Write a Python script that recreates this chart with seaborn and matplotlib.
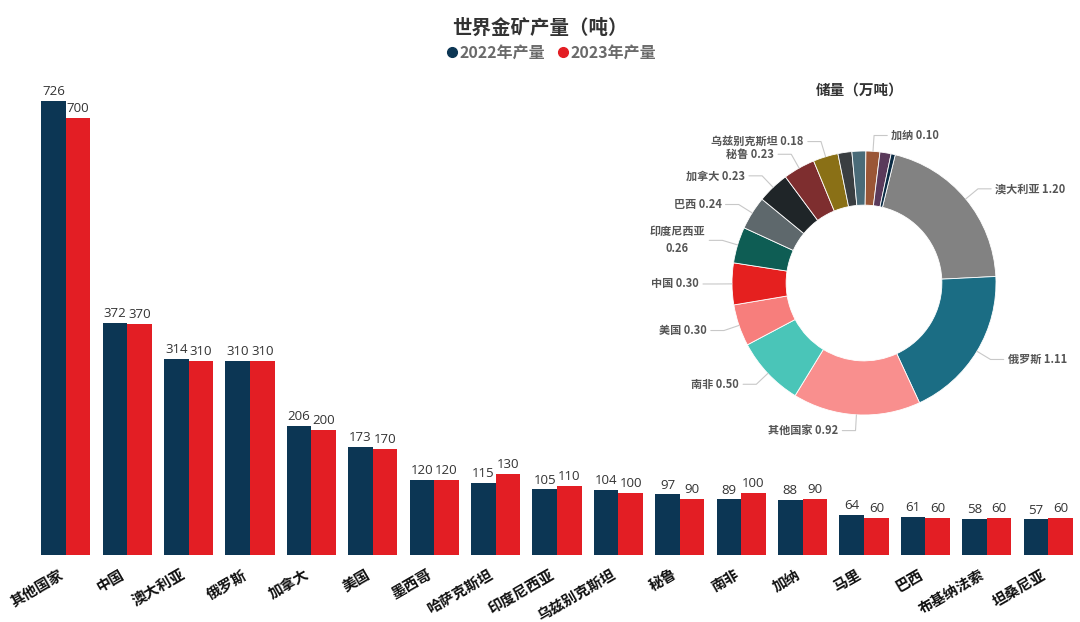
import numpy as np
import pandas as pd
import matplotlib
matplotlib.use("Agg")
import matplotlib.pyplot as plt
import matplotlib.transforms as mtrans
from matplotlib.lines import Line2D
import seaborn as sns

# 产量数据（吨）
countries = ["其他国家", "中国", "澳大利亚", "俄罗斯", "加拿大", "美国", "墨西哥", "哈萨克斯坦",
             "印度尼西亚", "乌兹别克斯坦", "秘鲁", "南非", "加纳", "马里", "巴西", "布基纳法索", "坦桑尼亚"]
prod_2022 = [726, 372, 314, 310, 206, 173, 120, 115, 105, 104, 97, 89, 88, 64, 61, 58, 57]
prod_2023 = [700, 370, 310, 310, 200, 170, 120, 130, 110, 100, 90, 100, 90, 60, 60, 60, 60]

# 储量数据（万吨），最后几块小扇区没有标签
reserve_names = ["澳大利亚", "俄罗斯", "其他国家", "南非", "美国", "中国", "印度尼西亚", "巴西",
                 "加拿大", "秘鲁", "乌兹别克斯坦", "", "", "加纳", "", ""]
reserve_vals = [1.20, 1.11, 0.92, 0.50, 0.30, 0.30, 0.26, 0.24, 0.23, 0.23, 0.18, 0.10, 0.10, 0.10, 0.08, 0.03]
reserve_colors = ["#828282", "#1b6d84", "#f98f8e", "#4ac5b8", "#f77e7c", "#e5201f", "#0e5d54", "#5e686c",
                  "#1f2528", "#7e2e2f", "#8a7016", "#3a3e41", "#4a6b78", "#9a5636", "#5a3a5b", "#0b2b44"]

c22, c23 = "#0c3654", "#e31e24"

sns.set_theme(style="white")
plt.rcParams["font.family"] = ["Noto Sans CJK SC", "DejaVu Sans"]

df = pd.DataFrame({
    "国家": countries * 2,
    "产量": prod_2022 + prod_2023,
    "年份": ["2022年产量"] * len(countries) + ["2023年产量"] * len(countries),
})

fig = plt.figure(figsize=(10.8, 6.22), dpi=100)
W, H = 1080, 622

def px_box(x0, y0, x1, y1):
    return [x0 / W, 1 - y1 / H, (x1 - x0) / W, (y1 - y0) / H]

ax = fig.add_axes(px_box(35, 80, 1079, 555))
sns.barplot(data=df, x="国家", y="产量", hue="年份", palette=[c22, c23],
            width=0.8, gap=0, saturation=1, legend=False, linewidth=0, ax=ax)
ax.set_ylim(0, 760)
ax.set_xlabel("")
ax.set_ylabel("")
ax.set_yticks([])
sns.despine(ax=ax, left=True, bottom=True)
for cont in ax.containers:
    ax.bar_label(cont, padding=2, fontsize=9.5, color="#333333", family=["Open Sans", "DejaVu Sans"])
ax.tick_params(axis="x", length=0, pad=8)
shift = mtrans.ScaledTranslation(-8 / 100, 0, fig.dpi_scale_trans)
for lab in ax.get_xticklabels():
    lab.set_rotation(30)
    lab.set_ha("right")
    lab.set_rotation_mode("anchor")
    lab.set_fontsize(10.5)
    lab.set_fontweight("bold")
    lab.set_color("#111111")
    lab.set_transform(lab.get_transform() + shift)

fig.text(540 / W, 1 - 28 / H, "世界金矿产量（吨）", ha="center", va="center",
         fontsize=14, fontweight="bold", color="#333333")
handles = [Line2D([], [], marker="o", ls="", color=c, markersize=7) for c in (c22, c23)]
fig.legend(handles, ["2022年产量", "2023年产量"], loc="center", bbox_to_anchor=(550 / W, 1 - 53 / H),
           ncol=2, frameon=False, handletextpad=0.0, columnspacing=0.6, handlelength=1.0,
           prop={"size": 11.5, "weight": "bold"}, labelcolor="#6a6a6a")

# 储量环形图
cx, cy, R = 864, 283, 132
pax = fig.add_axes(px_box(630, 100, 1080, 460))
wedges, _ = pax.pie(reserve_vals, colors=reserve_colors, startangle=76.3, counterclock=False,
                    radius=1.0, wedgeprops=dict(width=0.41, edgecolor="white", linewidth=0.6))
pax.set_xlim(-(cx - 630) / R, (1080 - cx) / R)
pax.set_ylim(-(460 - cy) / R, (cy - 100) / R)
pax.set_aspect("auto")
pax.axis("off")

for w, name, v in zip(wedges, reserve_names, reserve_vals):
    if not name:
        continue
    th = np.deg2rad((w.theta1 + w.theta2) / 2)
    x0, y0 = np.cos(th), np.sin(th)
    x1, y1 = 1.12 * x0, 1.12 * y0
    side = 1 if x0 >= 0 else -1
    x2 = x1 + side * 0.1
    pax.plot([x0, x1, x2], [y0, y1, y1], color="#c8c8c8", lw=0.8, clip_on=False)
    txt = f"{name} {v:.2f}" if name != "印度尼西亚" else f"{name}\n{v:.2f}"
    pax.text(x2 + side * 0.03, y1, txt, ha="left" if side > 0 else "right", va="center",
             fontsize=8, fontweight="bold", color="#555555", linespacing=1.4,
             multialignment="center", clip_on=False)

fig.text(860 / W, 1 - 90 / H, "储量（万吨）", ha="center", va="center",
         fontsize=10.5, fontweight="bold", color="#333333")

fig.savefig("out.png", dpi=100, facecolor="white")
